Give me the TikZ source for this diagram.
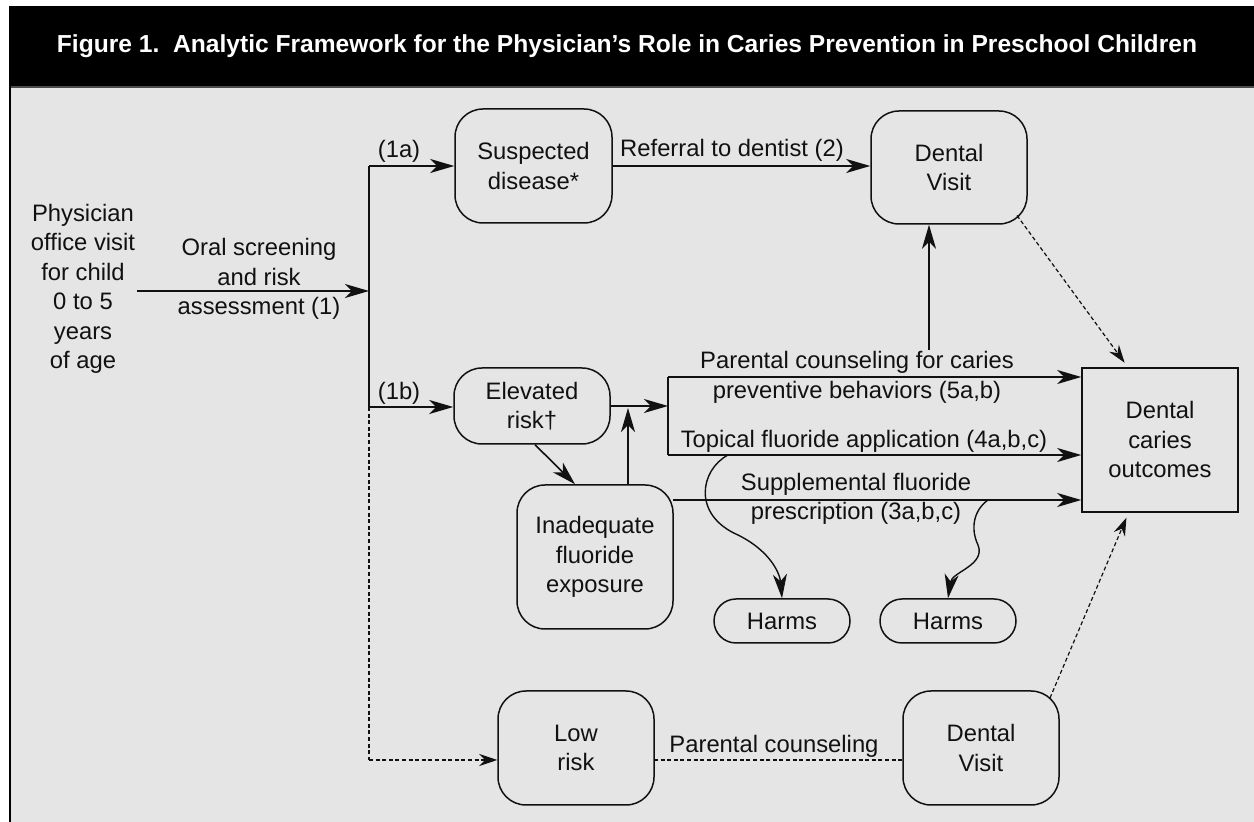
\documentclass[tikz,border=0pt]{standalone}
\usepackage{fontspec}
\usepackage{graphicx}
\setmainfont{Liberation Sans}
\usetikzlibrary{arrows.meta,calc}
\definecolor{panelgrey}{HTML}{E5E5E5}
\definecolor{inkc}{HTML}{111111}
\tikzset{
  txt/.style={font=\fontsize{11.9}{14.75}\selectfont, align=center, text=inkc, inner sep=1pt},
  rbox/.style={txt, draw=inkc, line width=0.75pt, rounded corners=14pt},
  sbox/.style={txt, draw=inkc, line width=0.75pt},
  arr/.style={draw=inkc, line width=0.8pt, -{Stealth[length=12pt,width=7pt,inset=3.5pt]}},
  plain/.style={draw=inkc, line width=0.8pt},
  dashline/.style={draw=inkc, line width=0.6pt, dash pattern=on 2pt off 1.3pt},
  darr/.style={dashline, -{Stealth[length=9pt,width=6pt,inset=3pt]}},
}
\begin{document}
\begin{tikzpicture}[x=0.5pt,y=-0.5pt]
\useasboundingbox (0,0) rectangle (1254,822);
% panel
\fill[white] (0,0) rectangle (1254,822);
\fill[panelgrey] (10,86) rectangle (1254,822);
\fill[black] (9,6) rectangle (1254,86);
\draw[gray!60!black, line width=1pt] (10,87) -- (1254,87);
\draw[black, line width=1.1pt] (10,86) -- (10,822);
\node[text=white, inner sep=0pt] (title) at (627,46) {\resizebox{570pt}{\height}{\bfseries\fontsize{12.3}{14}\selectfont Figure 1.\ \ Analytic Framework for the Physician’s Role in Caries Prevention in Preschool Children}};

% nodes
\node[txt] (phys) at (83,289) {Physician\\office visit\\for child\\0 to 5\\years\\of age};
\node[rbox, minimum width=78.5pt, minimum height=57pt] (sus) at (533.5,166) {Suspected\\disease*};
\node[rbox, minimum width=78pt, minimum height=56.5pt] (dv1) at (949,167.5) {Dental\\Visit};
\node[rbox, minimum width=78pt, minimum height=38pt] (elev) at (532,406) {Elevated\\risk†};
\node[rbox, minimum width=78pt, minimum height=72pt] (inad) at (595,557) {Inadequate\\fluoride\\exposure};
\node[rbox, rounded corners=11pt, minimum width=68pt, minimum height=22pt] (harms1) at (782,621) {Harms};
\node[rbox, rounded corners=11pt, minimum width=68pt, minimum height=22pt] (harms2) at (948,621) {Harms};
\node[sbox, minimum width=78pt, minimum height=72pt] (out) at (1160,440) {Dental\\caries\\outcomes};
\node[rbox, minimum width=78pt, minimum height=57pt] (low) at (576,748) {Low\\risk};
\node[rbox, minimum width=78pt, minimum height=57pt] (dv2) at (981,748) {Dental\\Visit};

% labels
\node[txt] (oral) at (259,279) {Oral screening\\and risk\\assessment (1)};
\node[txt] (l1a) at (399,151) {(1a)};
\node[txt] (l1b) at (399,393) {(1b)};
\node[txt] (ref) at (732,150) {Referral to dentist (2)};
\node[txt] (pc) at (857,377.5) {Parental counseling for caries\\preventive behaviors (5a,b)};
\node[txt] (top) at (864,441) {Topical fluoride application (4a,b,c)};
\node[txt] (sup) at (856,499) {Supplemental fluoride\\prescription (3a,b,c)};
\node[txt] (pcl) at (774,746) {Parental counseling};

% coordinates
\coordinate (m0) at (137,291);
\coordinate (jt) at (369,166);
\coordinate (jm) at (369,291);
\coordinate (jb) at (369,407);
\coordinate (jd) at (369,760);
\coordinate (e1) at (668,406);
\coordinate (br1) at (668,377);
\coordinate (br2) at (668,455);
\coordinate (s3) at (673,500);
\coordinate (up1) at (628,485);
\coordinate (up2) at (628,408);
\coordinate (pup) at (929,350);
\coordinate (t1) at (728,455);
\coordinate (t2) at (988,500);
\coordinate (lr) at (654,760);
\coordinate (dl) at (903,760);

% connectors
\draw[arr] (m0) -- (jm);
\draw[plain] (jt) -- (jb);
\draw[arr] (jt) -- (sus.west |- jt);
\draw[arr] (jb) -- (elev.west |- jb);
\draw[dashline] (jb) -- (jd);
\draw[darr] (jd) -- (low.west |- jd);
\draw[arr] (sus.east) -- (sus.east -| dv1.west);
\draw[arr] (elev.east) -- (e1);
\draw[plain] (br1) -- (br2);
\draw[arr] (br1) -- (br1 -| out.west);
\draw[arr] (br2) -- (br2 -| out.west);
\draw[arr] (s3) -- (s3 -| out.west);
\draw[arr] (up1) -- (up2);
\draw[arr] ([xshift=1.5pt]elev.south) -- ([xshift=-10pt]inad.north);
\draw[arr] (pup) -- (pup |- dv1.south);
\draw[darr, shorten >=2pt] ([xshift=34pt,yshift=-24pt]dv1.center) -- (1127,366);
\draw[darr, shorten >=2pt] ([xshift=34.5pt,yshift=25pt]dv2.center) -- (1128,514);
\draw[dashline] (lr) -- (dl);
\draw[arr, line width=0.7pt] (t1) .. controls (700,470) and (692,515) .. (738,535) .. controls (772,552) and (780,575) .. (harms1.north);
\draw[arr, line width=0.7pt] (t2) .. controls (974,510) and (970,528) .. (978,545) .. controls (986,565) and (952,572) .. (harms2.north);
\end{tikzpicture}
\end{document}
